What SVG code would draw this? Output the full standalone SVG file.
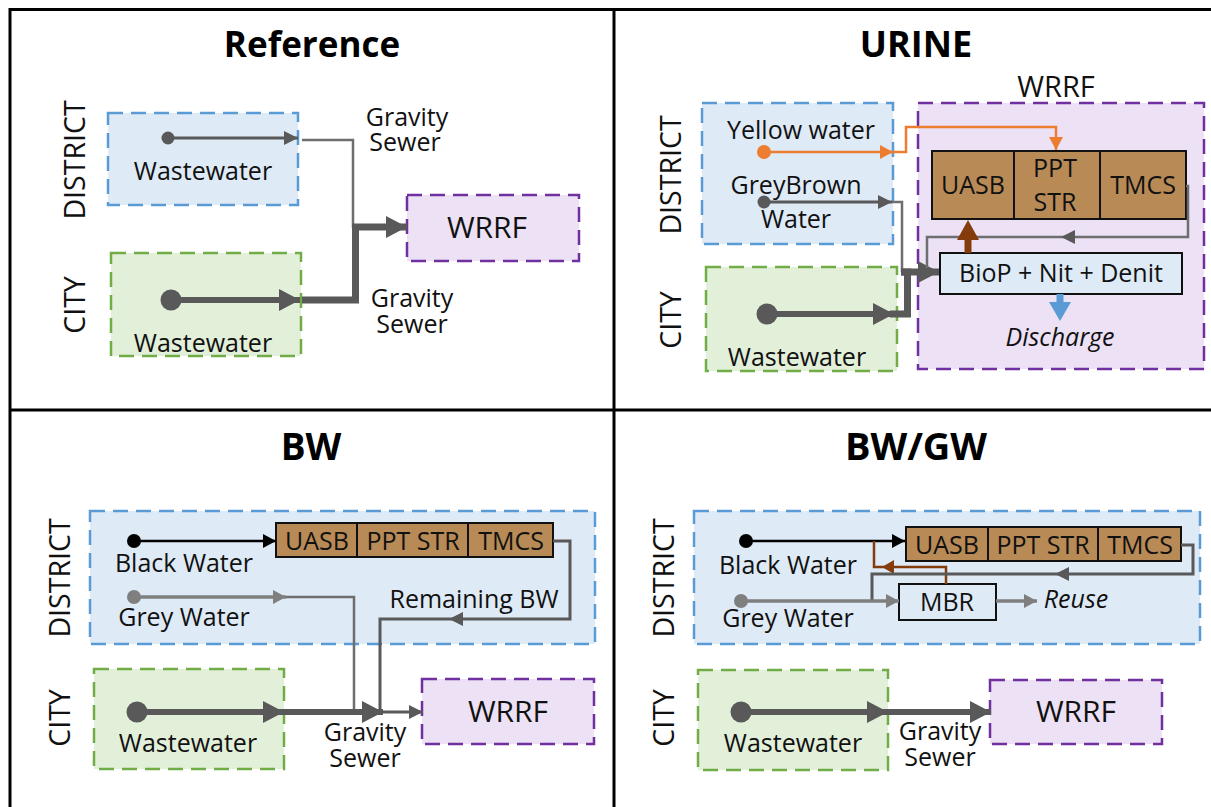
<svg xmlns="http://www.w3.org/2000/svg" width="1211" height="807" viewBox="0 0 1211 807">
<style>
text{font-family:"Open Sans","Noto Sans","Liberation Sans",sans-serif;fill:#111;text-anchor:middle;font-size:25px}
.title{font-size:35px;font-weight:700;fill:#000}
.side{font-size:28.5px}
.big{font-size:30px}
.it{font-style:italic}
.frame{stroke:#000;stroke-width:3;fill:none}
.div{stroke:#111;stroke-width:2;fill:none}
.d{fill:#deeaf6;stroke:#5b9bd5;stroke-width:2.5;stroke-dasharray:15 8}
.c{fill:#e2efd9;stroke:#70ad47;stroke-width:2.5;stroke-dasharray:15 8}
.w{fill:#ede1f5;stroke:#7030a0;stroke-width:2.5;stroke-dasharray:15 8}
.b{fill:#b88a56;stroke:#111;stroke-width:2}
.p{fill:#deeaf6;stroke:#111;stroke-width:2}
.l{fill:none;stroke-linejoin:miter}
.g1{stroke:#595959;stroke-width:3}
.g2{stroke:#595959;stroke-width:6}
.g3{stroke:#595959;stroke-width:7}
.gr{stroke:#7f7f7f;stroke-width:3.5}
.gt{stroke:#6e6e6e;stroke-width:2.5}
.k{stroke:#000;stroke-width:2.5}
.o{stroke:#ed7d31;stroke-width:2.5}
.br{stroke:#843c0c;stroke-width:2.5}
</style>
<defs>
<marker id="ag" markerUnits="userSpaceOnUse" markerWidth="15" markerHeight="16" refX="14" refY="7" orient="auto"><path d="M0 0L14 7L0 14Z" fill="#595959"/></marker>
<marker id="agb" markerUnits="userSpaceOnUse" markerWidth="22" markerHeight="24" refX="21" refY="11" orient="auto"><path d="M0 0L21 11L0 22Z" fill="#595959"/></marker>
<marker id="ak" markerUnits="userSpaceOnUse" markerWidth="14" markerHeight="16" refX="13" refY="7" orient="auto"><path d="M0 0L13 7L0 14Z" fill="#000"/></marker>
<marker id="agr" markerUnits="userSpaceOnUse" markerWidth="14" markerHeight="16" refX="13" refY="7" orient="auto"><path d="M0 0L13 7L0 14Z" fill="#7f7f7f"/></marker>
<marker id="ao" markerUnits="userSpaceOnUse" markerWidth="14" markerHeight="16" refX="13" refY="7" orient="auto"><path d="M0 0L13 7L0 14Z" fill="#ed7d31"/></marker>
</defs>

<g id="frame">
<path class="frame" d="M10 807V9.5H1211M614 10V807M10 410H1211"/>
</g>

<g id="titles">
<text class="title" x="312" y="57">Reference</text>
<text class="title" x="916" y="57" style="font-size:36px">URINE</text>
<text class="title" x="311" y="460" style="font-size:37px">BW</text>
<text class="title" x="916" y="460" style="font-size:38px">BW/GW</text>
</g>

<g id="ref-district"><rect class="d" x="108" y="113" width="190" height="92"/><text x="203" y="180">Wastewater</text><text class="side" transform="translate(85 160) rotate(-90)">DISTRICT</text></g>
<g id="ref-city"><rect class="c" x="111" y="253" width="190" height="103"/><text x="203" y="352">Wastewater</text><text class="side" transform="translate(85 305) rotate(-90)">CITY</text></g>
<g id="ref-wrrf"><rect class="w" x="407" y="195" width="172" height="66"/><text class="big" x="487" y="238">WRRF</text></g>
<g id="ref-labels"><text x="407" y="126">Gravity</text><text x="405" y="151">Sewer</text><text x="412" y="307">Gravity</text><text x="412" y="333">Sewer</text></g>

<g id="urine-district"><rect class="d" x="702" y="103" width="191" height="141"/><text x="801" y="139">Yellow water</text><text x="796" y="194">GreyBrown</text><text x="796" y="228">Water</text><text class="side" transform="translate(681 175) rotate(-90)">DISTRICT</text></g>
<g id="urine-city"><rect class="c" x="706" y="267" width="191" height="104"/><text x="797" y="366">Wastewater</text><text class="side" transform="translate(681 320) rotate(-90)">CITY</text></g>
<g id="urine-wrrf"><rect class="w" x="918" y="103" width="286" height="266"/><text class="big" x="1056" y="97" style="font-size:29px">WRRF</text><text class="it" x="1060" y="346">Discharge</text></g>
<g id="urine-train"><rect class="b" x="932" y="151" width="254" height="68"/><path class="div" d="M1014 151V219M1100 151V219"/><text x="973" y="194">UASB</text><text x="1055" y="177">PPT</text><text x="1055" y="211">STR</text><text x="1143" y="194">TMCS</text></g>
<g id="urine-biop"><rect class="p" x="940" y="253" width="242" height="41"/><text x="1061" y="282">BioP + Nit + Denit</text></g>

<g id="bw-district"><rect class="d" x="90" y="511" width="505" height="133"/><text x="184" y="572">Black Water</text><text x="184" y="626">Grey Water</text><text x="474" y="608">Remaining BW</text><text class="side" transform="translate(70 578) rotate(-90)">DISTRICT</text></g>
<g id="bw-train"><rect class="b" x="276" y="523" width="277" height="34"/><path class="div" d="M357 523V557M468 523V557"/><text x="317" y="550">UASB</text><text x="413" y="550">PPT STR</text><text x="511" y="550">TMCS</text></g>
<g id="bw-city"><rect class="c" x="94" y="669" width="190" height="100"/><text x="188" y="752">Wastewater</text><text class="side" transform="translate(70 718) rotate(-90)">CITY</text></g>
<g id="bw-wrrf"><rect class="w" x="422" y="679" width="172" height="65"/><text class="big" x="508" y="722">WRRF</text></g>
<g id="bw-labels"><text x="365" y="741">Gravity</text><text x="365" y="767">Sewer</text></g>

<g id="gw-district"><rect class="d" x="694" y="511" width="506" height="133"/><text x="788" y="574">Black Water</text><text x="788" y="627">Grey Water</text><text class="it" x="1076" y="608">Reuse</text><text class="side" transform="translate(674 578) rotate(-90)">DISTRICT</text></g>
<g id="gw-train"><rect class="b" x="906" y="527" width="275" height="34"/><path class="div" d="M988 527V561M1098 527V561"/><text x="947" y="554">UASB</text><text x="1043" y="554">PPT STR</text><text x="1140" y="554">TMCS</text></g>
<g id="gw-mbr"><rect class="p" x="899" y="584" width="97" height="36"/><text x="947" y="611">MBR</text></g>
<g id="gw-city"><rect class="c" x="698" y="670" width="190" height="100"/><text x="793" y="752">Wastewater</text><text class="side" transform="translate(674 718) rotate(-90)">CITY</text></g>
<g id="gw-wrrf"><rect class="w" x="990" y="680" width="172" height="64"/><text class="big" x="1076" y="722">WRRF</text></g>
<g id="gw-labels"><text x="940" y="740">Gravity</text><text x="940" y="766">Sewer</text></g>

<g id="connectors">
<circle cx="168" cy="138" r="6.5" fill="#595959"/><path class="l g1" d="M168 138H298" marker-end="url(#ag)"/>
<path class="l gt" d="M302 140H353V228"/>
<circle cx="171" cy="300" r="10.5" fill="#595959"/><path class="l g2" d="M171 300H300" marker-end="url(#agb)"/>
<path class="l g3" d="M302 300H355.500V227H407" marker-end="url(#agb)"/>

<circle cx="764" cy="152" r="7" fill="#ed7d31"/><path class="l o" d="M764 152H893" marker-end="url(#ao)"/>
<path class="l o" d="M890 152H906V127H1056V150" marker-end="url(#ao)"/>
<circle cx="764" cy="202" r="6.500" fill="#595959"/><path class="l g1" d="M764 202H892" marker-end="url(#ag)"/>
<path class="l gt" d="M892 202H902V272"/>
<circle cx="767" cy="314" r="10.500" fill="#595959"/><path class="l g2" d="M767 314H894" marker-end="url(#agb)"/>
<path class="l g3" d="M890 314H907.500V272H901"/>
<path class="l g3" d="M901 272H939" marker-end="url(#agb)"/>
<path class="l gt" d="M927 268V237H1188V186H1186"/>
<path d="M1061 237L1075 230V244Z" fill="#595959"/>
<path d="M968 253V236" stroke="#843c0c" stroke-width="7" fill="none"/><path d="M968 220L979 240H957Z" fill="#843c0c"/>
<path d="M1060 294V304" stroke="#5b9bd5" stroke-width="7" fill="none"/><path d="M1060 321L1049 302H1071Z" fill="#5b9bd5"/>

<circle cx="134" cy="541" r="7" fill="#000"/><path class="l k" d="M134 541H276" marker-end="url(#ak)"/>
<circle cx="134" cy="597" r="7" fill="#7f7f7f"/><path class="l gr" d="M134 597H286" marker-end="url(#agr)"/>
<path class="l gt" d="M286 597H354V712"/>
<path class="l g1" d="M553 541H570V619H380V712"/>
<path d="M449 619L463 612V626Z" fill="#595959"/>
<circle cx="137" cy="712" r="10.500" fill="#595959"/><path class="l g2" d="M137 712H284" marker-end="url(#agb)"/>
<path class="l g2" d="M284 712H383" marker-end="url(#agb)"/>
<path class="l g1" d="M383 712H423" marker-end="url(#ag)"/>

<circle cx="746" cy="541" r="7" fill="#000"/><path class="l k" d="M746 541H905" marker-end="url(#ak)"/>
<path class="l br" d="M946 584V567H874V541"/>
<path d="M882 567L894 560V574Z" fill="#843c0c"/>
<path class="l g1" d="M1181 545H1193V574H872V601"/>
<path d="M1055 574L1069 567V581Z" fill="#595959"/>
<circle cx="741" cy="601" r="7" fill="#7f7f7f"/><path class="l gr" d="M741 601H899" marker-end="url(#agr)"/>
<path class="l gr" d="M996 601H1037" marker-end="url(#agr)"/>
<circle cx="741" cy="712" r="10.500" fill="#595959"/><path class="l g2" d="M741 712H888" marker-end="url(#agb)"/>
<path class="l g2" d="M888 712H991" marker-end="url(#agb)"/>
</g>
</svg>
